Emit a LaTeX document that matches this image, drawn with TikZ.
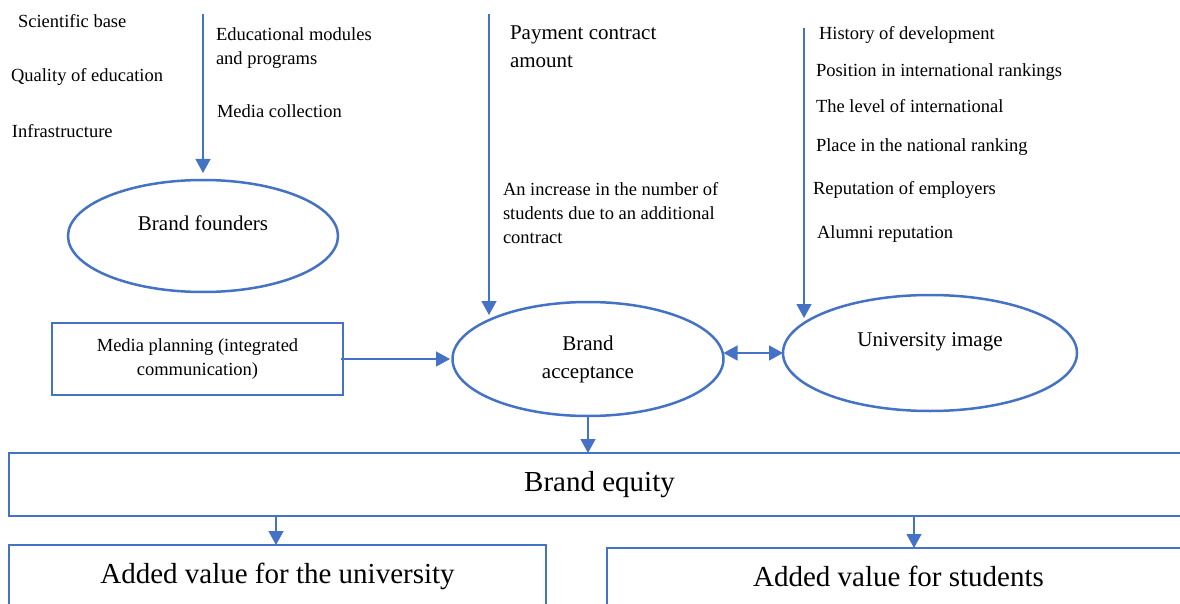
\documentclass[tikz,border=0pt]{standalone}
\usepackage{fontspec}
\setmainfont{Liberation Serif}
\usetikzlibrary{arrows.meta,shapes.geometric}
\definecolor{frameblue}{HTML}{4472C4}
\begin{document}
\begin{tikzpicture}[x=1pt,y=-1pt,
  every node/.style={inner sep=0pt,outer sep=0pt,text=black},
  lbl/.style={font=\fontsize{18.5}{24}\selectfont,anchor=base west},
  lblblock/.style={font=\fontsize{18.5}{24}\selectfont,anchor=north west,align=left},
  midfont/.style={font=\fontsize{21}{28}\selectfont},
  oval/.style={draw=frameblue,line width=2.5pt,ellipse},
  frame/.style={draw=frameblue,line width=2.5pt,rectangle},
  bigframe/.style={frame,font=\fontsize{29}{35}\selectfont,text height=20pt,text depth=6pt},
  bluetip/.tip={Triangle[length=14pt,width=15pt]},
  conn/.style={draw=frameblue,line width=1.3pt,-bluetip},
]
\clip (0,0) rectangle (1180,604);
\fill[white] (0,0) rectangle (1180,604);

% left column of factors
\node[lbl] (tsci) at (18,28) {Scientific base};
\node[lbl] (tqual) at (11,82) {Quality of education};
\node[lbl] (tinf) at (12,138) {Infrastructure};
\node[lblblock] (tedu) at (216,27.4) {Educational modules\\and programs};
\node[lbl] (tmedia) at (217,118) {Media collection};

% middle column
\node[midfont,anchor=north west,align=left] (tpay) at (510,26.1) {Payment contract\\amount};
\node[lblblock] (tinc) at (503,182.4) {An increase in the number of\\students due to an additional\\contract};

% right column
\node[lbl] (thist) at (819,40) {History of development};
\node[lbl] (tpos) at (816,77) {Position in international rankings};
\node[lbl] (tlev) at (816,113) {The level of international};
\node[lbl] (tplace) at (816,152) {Place in the national ranking};
\node[lbl] (temp) at (813,195) {Reputation of employers};
\node[lbl] (talum) at (817,238) {Alumni reputation};

% ovals
\node[oval,minimum width=270pt,minimum height=112pt] (bf) at (203,236) {};
\node[midfont,anchor=base] (bft) at (203,230) {Brand founders};
\node[oval,midfont,align=center,minimum width=271pt,minimum height=114pt] (ba) at (588,359) {Brand\\acceptance};
\node[oval,minimum width=294pt,minimum height=116pt] (ui) at (930,353) {};
\node[midfont,anchor=base] (uit) at (930,346) {University image};

% boxes
\node[frame,align=center,font=\fontsize{18.5}{24}\selectfont,minimum width=291pt,minimum height=72pt] (mp) at (197.5,359) {Media planning (integrated\\communication)};
\node[bigframe,minimum width=1181pt,minimum height=63pt] (be) at (599.5,484.5) {Brand equity};
\node[bigframe,minimum width=537pt,minimum height=62pt] (avu) at (277.5,576) {Added value for the university};
\node[bigframe,minimum width=583pt,minimum height=62pt] (avs) at (898.5,579) {Added value for students};

% connectors
\coordinate (s1) at (203,14);
\coordinate (s2) at (489,14);
\coordinate (e2) at (489,315);
\coordinate (s3) at (804,28);
\coordinate (e3) at (804,318);
\coordinate (ux) at ([xshift=-1.5pt]avu.north);
\coordinate (sx) at ([xshift=15.5pt]avs.north);

\draw[conn,shorten >=7pt] (s1) -- (bf.north);
\draw[conn] (s2) -- (e2);
\draw[conn] (s3) -- (e3);
\draw[conn,shorten >=2.5pt] ([xshift=-2pt]mp.east) -- (ba.west);
\draw[conn,bluetip-bluetip] (ba.east |- ui.west) -- (ui.west);
\draw[conn] (ba.south) -- (ba.south |- be.north);
\draw[conn] (ux |- be.south) -- (ux);
\draw[conn] (sx |- be.south) -- (sx);
\end{tikzpicture}
\end{document}
